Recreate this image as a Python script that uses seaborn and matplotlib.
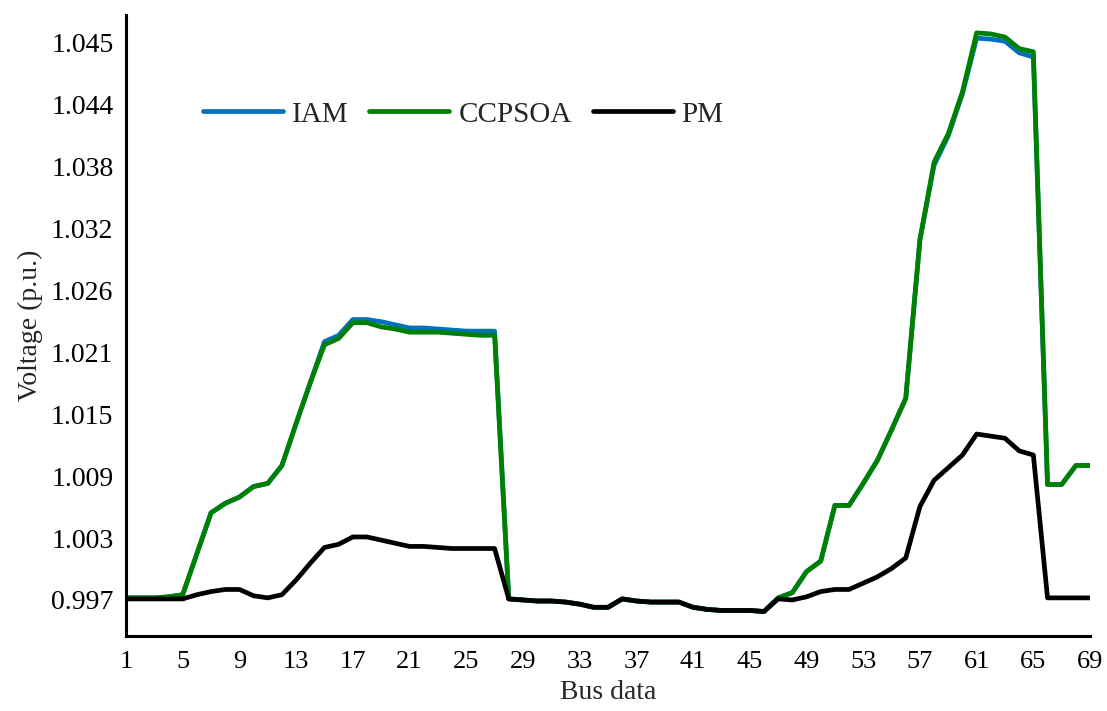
import numpy as np
import pandas as pd
import matplotlib
matplotlib.use("Agg")
import matplotlib.pyplot as plt
import seaborn as sns

bus = list(range(1, 70))

iam = [0.9972, 0.9972, 0.9972, 0.9973, 0.9975, 1.0014, 1.0053, 1.0062, 1.0068, 1.0078,
       1.0081, 1.0098, 1.0138, 1.0177, 1.0216, 1.0222, 1.0237, 1.0237, 1.0235, 1.0232,
       1.0229, 1.0229, 1.0228, 1.0227, 1.0226, 1.0226, 1.0226, 0.9971, 0.9970, 0.9969,
       0.9969, 0.9968, 0.9966, 0.9963, 0.9963, 0.9971, 0.9969, 0.9968, 0.9968, 0.9968,
       0.9963, 0.9961, 0.9960, 0.9960, 0.9960, 0.9959, 0.9972, 0.9977, 0.9997, 1.0007,
       1.0060, 1.0060, 1.0081, 1.0103, 1.0132, 1.0162, 1.0313, 1.0384, 1.0412, 1.0452,
       1.0505, 1.0504, 1.0502, 1.0491, 1.0487, 1.0080, 1.0080, 1.0098, 1.0098]

ccpsoa = [0.9972, 0.9972, 0.9972, 0.9973, 0.9975, 1.0014, 1.0053, 1.0062, 1.0068, 1.0078,
          1.0081, 1.0098, 1.0138, 1.0177, 1.0213, 1.0219, 1.0234, 1.0234, 1.0230, 1.0228,
          1.0225, 1.0225, 1.0225, 1.0224, 1.0223, 1.0222, 1.0222, 0.9971, 0.9970, 0.9969,
          0.9969, 0.9968, 0.9966, 0.9963, 0.9963, 0.9971, 0.9969, 0.9968, 0.9968, 0.9968,
          0.9963, 0.9961, 0.9960, 0.9960, 0.9960, 0.9959, 0.9972, 0.9977, 0.9997, 1.0007,
          1.0060, 1.0060, 1.0081, 1.0103, 1.0132, 1.0162, 1.0313, 1.0387, 1.0414, 1.0454,
          1.0510, 1.0509, 1.0506, 1.0495, 1.0492, 1.0080, 1.0080, 1.0098, 1.0098]

pm = [0.9971, 0.9971, 0.9971, 0.9971, 0.9971, 0.9975, 0.9978, 0.9980, 0.9980, 0.9974,
      0.9972, 0.9975, 0.9989, 1.0005, 1.0020, 1.0023, 1.0030, 1.0030, 1.0027, 1.0024,
      1.0021, 1.0021, 1.0020, 1.0019, 1.0019, 1.0019, 1.0019, 0.9971, 0.9970, 0.9969,
      0.9969, 0.9968, 0.9966, 0.9963, 0.9963, 0.9971, 0.9969, 0.9968, 0.9968, 0.9968,
      0.9963, 0.9961, 0.9960, 0.9960, 0.9960, 0.9959, 0.9971, 0.9970, 0.9973, 0.9978,
      0.9980, 0.9980, 0.9986, 0.9992, 1.0000, 1.0010, 1.0059, 1.0084, 1.0096, 1.0108,
      1.0128, 1.0126, 1.0124, 1.0112, 1.0108, 0.9972, 0.9972, 0.9972, 0.9972]

# tick labels as printed on the original axis (evenly spaced, unevenly labelled)
ytick_labels = ["0.997", "1.003", "1.009", "1.015", "1.021",
                "1.026", "1.032", "1.038", "1.044", "1.045"]
xticks = list(range(1, 70, 4))

sns.set_theme(style="white")
plt.rcParams['font.family'] = ['Liberation Serif', 'DejaVu Serif']

df = pd.DataFrame({"bus": bus, "IAM": iam, "CCPSOA": ccpsoa, "PM": pm})

fig = plt.figure(figsize=(11.07, 7.11), dpi=100)
ax = fig.add_axes([0.1138, 0.1055, 0.8709, 0.8734])

sns.lineplot(data=df, x="bus", y="IAM", color="#0072BD", lw=3.4, label="IAM", ax=ax)
sns.lineplot(data=df, x="bus", y="CCPSOA", color="#008000", lw=3.4, label="CCPSOA", ax=ax)
sns.lineplot(data=df, x="bus", y="PM", color="black", lw=3.4, label="PM", ax=ax)

ax.set_xlim(1, 69)
ax.set_ylim(0.99357, 1.0527)
ax.set_xticks(xticks)
ax.set_xticklabels([str(t) for t in xticks])
yt = [0.997 + 0.0059 * i for i in range(len(ytick_labels))]
ax.set_yticks(yt)
ax.set_yticklabels(ytick_labels)

ax.set_xlabel("Bus data", fontsize=20, labelpad=5)
ax.set_ylabel("Voltage (p.u.)", fontsize=20, labelpad=6)

for s in ["top", "right"]:
    ax.spines[s].set_visible(False)
for s in ["left", "bottom"]:
    ax.spines[s].set_color("black")
    ax.spines[s].set_linewidth(2.2)

ax.tick_params(axis="both", direction="in", length=5, width=2, color="black",
               labelcolor="black")
ax.tick_params(axis="x", pad=11, labelsize=19)
ax.tick_params(axis="y", pad=9, labelsize=20)

ax.legend(loc="center left", bbox_to_anchor=(0.0675, 0.84), ncol=3, frameon=False,
          fontsize=21, handlelength=2.74, handletextpad=0.31, columnspacing=0.72,
          borderaxespad=0)

fig.savefig("out.png", dpi=100)
